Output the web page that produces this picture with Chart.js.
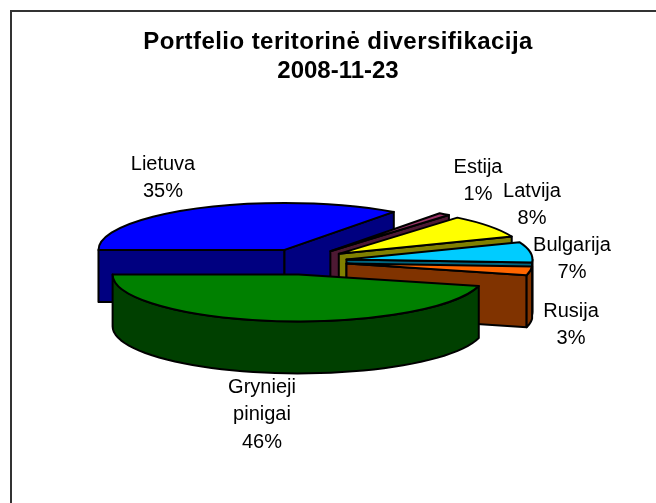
<!DOCTYPE html>
<html>
<head>
<meta charset="utf-8">
<style>
html,body{margin:0;padding:0;background:#fff;}
#wrap{position:absolute;left:0;top:0;width:656px;height:503px;}
canvas{display:block;}
</style>
<script src="https://cdn.jsdelivr.net/npm/chart.js@4/dist/chart.umd.js"></script>
</head>
<body>
<div id="wrap"><canvas id="c" width="656" height="503"></canvas></div>
<script>
const categories = ["Lietuva","Estija","Latvija","Bulgarija","Rusija","Grynieji pinigai"];
const shares = [35,1,8,7,3,46];
const topColors = ["#0000FF","#993366","#FFFF00","#00CCFF","#FF6600","#008000"];
const sideColors = ["#000080","#4D1933","#808000","#006680","#803300","#004000"];
const labelLines = [["Lietuva","35%"],["Estija","1%"],["Latvija","8%"],["Bulgarija","7%"],["Rusija","3%"],["Grynieji","pinigai","46%"]];
const titleLines = ["Portfelio teritorinė diversifikacija","2008-11-23"];

const labelCentres = [[163,164],[478,167],[532,191],[572,245],[571,311],[262,387]];
const LINE_H = 27.5, FONT = '20px "Liberation Sans", Arial, sans-serif';
const SQUASH = 47/186, DEPTH = 52, EXPLODE_X = 43, EXPLODE_Y = 13;

const pie3d = {
  id:'pie3d',
  beforeDraw(chart){
    const c = chart.ctx;
    c.save();
    c.fillStyle='#fff'; c.fillRect(0,0,chart.width,chart.height);
    c.strokeStyle='#333'; c.lineWidth=2;
    c.beginPath(); c.moveTo(11,chart.height); c.lineTo(11,11); c.lineTo(chart.width,11); c.stroke();
    c.restore();
  },
  beforeDatasetsDraw(chart){
    const c = chart.ctx, meta = chart.getDatasetMeta(0);
    meta.data.forEach((arc,i)=>{
      const {x,y,startAngle:s,endAngle:e,outerRadius:r} = arc.getProps(['x','y','startAngle','endAngle','outerRadius'],true);
      const mid=(s+e)/2;
      const ox=Math.cos(mid)*EXPLODE_X, oy=Math.sin(mid)*EXPLODE_Y;
      const cx=x+ox, cy=y+oy;
      const px=a=>cx+Math.cos(a)*r, py=a=>cy+Math.sin(a)*r*SQUASH;
      c.save();
      c.lineWidth=2; c.strokeStyle='#000'; c.lineJoin='round';
      c.fillStyle=sideColors[i];
      const wall=a=>{
        c.beginPath();
        c.moveTo(cx,cy); c.lineTo(px(a),py(a)); c.lineTo(px(a),py(a)+DEPTH); c.lineTo(cx,cy+DEPTH); c.closePath();
        c.fill(); c.stroke();
      };
      if(Math.cos(s)<0) wall(s);
      if(Math.cos(e)>0) wall(e);
      const n=Math.floor(s/(2*Math.PI));
      for(let k=n-1;k<=n+1;k++){
        const a0=Math.max(s,k*2*Math.PI), a1=Math.min(e,k*2*Math.PI+Math.PI);
        if(a1>a0){
          c.beginPath();
          c.moveTo(px(a0),py(a0));
          for(let t=0;t<=48;t++){const a=a0+(a1-a0)*t/48;c.lineTo(px(a),py(a));}
          for(let t=48;t>=0;t--){const a=a0+(a1-a0)*t/48;c.lineTo(px(a),py(a)+DEPTH);}
          c.closePath(); c.fill(); c.stroke();
        }
      }
      c.save();
      c.translate(cx,cy); c.scale(1,SQUASH); c.translate(-x,-y);
      arc.draw(c);
      c.beginPath();
      c.moveTo(x,y); c.arc(x,y,r,s,e); c.closePath();
      c.restore();
      c.stroke();
      c.restore();
    });
    return false;
  },
  afterDraw(chart){
    const c = chart.ctx;
    c.save();
    c.font=FONT; c.fillStyle='#000'; c.textAlign='center'; c.textBaseline='middle';
    labelLines.forEach((lines,i)=>lines.forEach((t,j)=>{
      c.fillText(t,labelCentres[i][0],labelCentres[i][1]+j*LINE_H);
    }));
    c.restore();
  }
};

new Chart(document.getElementById('c'),{
  type:'pie',
  data:{labels:categories,datasets:[{data:shares,backgroundColor:topColors,borderWidth:0,borderColor:'#000'}]},
  options:{
    responsive:false,animation:false,rotation:270,radius:186,
    layout:{padding:{left:0,right:48,top:20,bottom:0}},
    plugins:{legend:{display:false},tooltip:{enabled:false},title:{display:false}}
  },
  plugins:[pie3d,{
    id:'titleText',
    afterDraw(chart){
      const c=chart.ctx;c.save();
      c.font='bold 24px "Liberation Sans", Arial, sans-serif';c.fillStyle='#000';c.textAlign='center';c.textBaseline='middle';
      c.letterSpacing='0.45px';
      c.fillText(titleLines[0],338,42);
      c.letterSpacing='0px';
      c.fillText(titleLines[1],338,71);
      c.restore();
    }
  }]
});
</script>
</body>
</html>
